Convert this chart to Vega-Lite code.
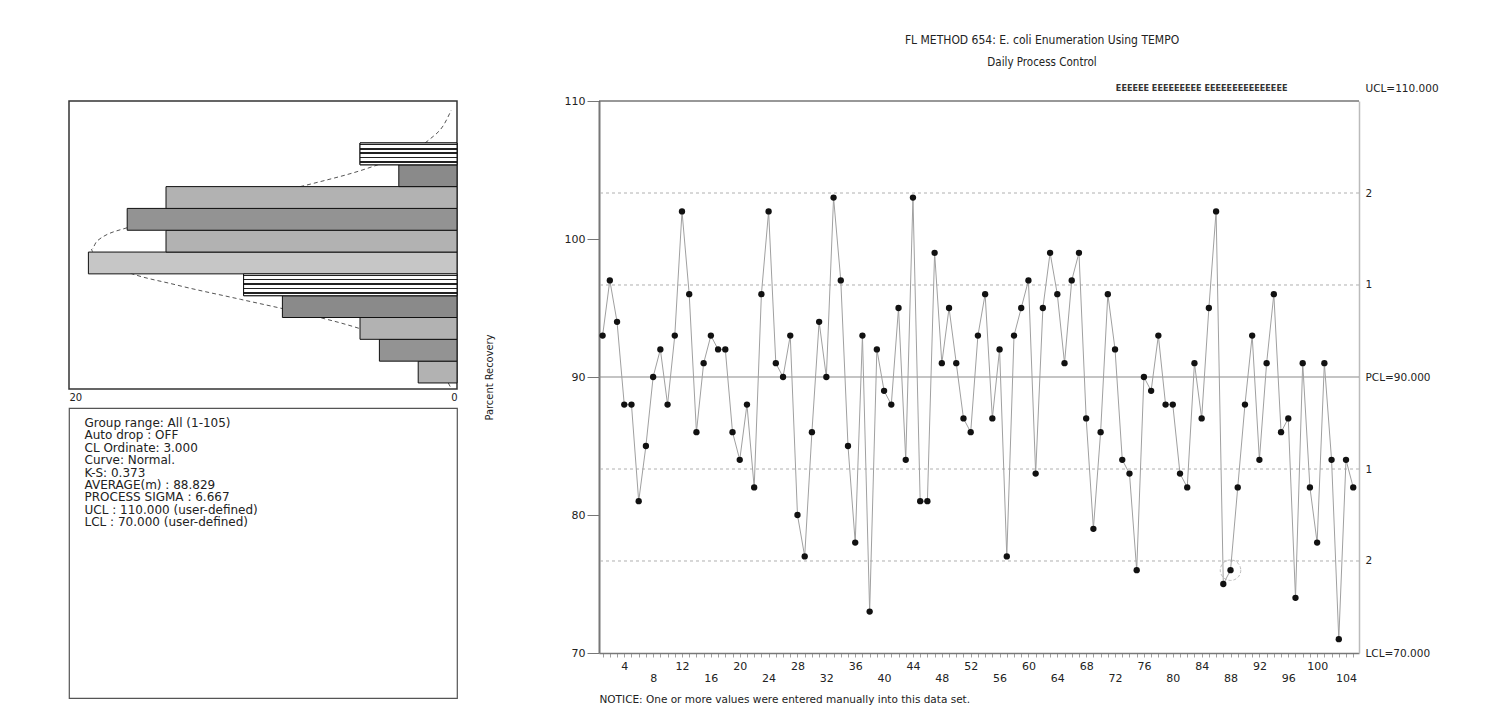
{
  "$schema": "https://vega.github.io/schema/vega-lite/v6.json",
  "background": "white",
  "padding": {"left": 67, "top": 33, "right": 40, "bottom": 5},
  "config": {"font": "DejaVu Sans"},
  "datasets": {
    "points": [
      {"sample": 1, "value": 93}, {"sample": 2, "value": 97}, {"sample": 3, "value": 94}, {"sample": 4, "value": 88}, {"sample": 5, "value": 88},
      {"sample": 6, "value": 81}, {"sample": 7, "value": 85}, {"sample": 8, "value": 90}, {"sample": 9, "value": 92}, {"sample": 10, "value": 88},
      {"sample": 11, "value": 93}, {"sample": 12, "value": 102}, {"sample": 13, "value": 96}, {"sample": 14, "value": 86}, {"sample": 15, "value": 91},
      {"sample": 16, "value": 93}, {"sample": 17, "value": 92}, {"sample": 18, "value": 92}, {"sample": 19, "value": 86}, {"sample": 20, "value": 84},
      {"sample": 21, "value": 88}, {"sample": 22, "value": 82}, {"sample": 23, "value": 96}, {"sample": 24, "value": 102}, {"sample": 25, "value": 91},
      {"sample": 26, "value": 90}, {"sample": 27, "value": 93}, {"sample": 28, "value": 80}, {"sample": 29, "value": 77}, {"sample": 30, "value": 86},
      {"sample": 31, "value": 94}, {"sample": 32, "value": 90}, {"sample": 33, "value": 103}, {"sample": 34, "value": 97}, {"sample": 35, "value": 85},
      {"sample": 36, "value": 78}, {"sample": 37, "value": 93}, {"sample": 38, "value": 73}, {"sample": 39, "value": 92}, {"sample": 40, "value": 89},
      {"sample": 41, "value": 88}, {"sample": 42, "value": 95}, {"sample": 43, "value": 84}, {"sample": 44, "value": 103}, {"sample": 45, "value": 81},
      {"sample": 46, "value": 81}, {"sample": 47, "value": 99}, {"sample": 48, "value": 91}, {"sample": 49, "value": 95}, {"sample": 50, "value": 91},
      {"sample": 51, "value": 87}, {"sample": 52, "value": 86}, {"sample": 53, "value": 93}, {"sample": 54, "value": 96}, {"sample": 55, "value": 87},
      {"sample": 56, "value": 92}, {"sample": 57, "value": 77}, {"sample": 58, "value": 93}, {"sample": 59, "value": 95}, {"sample": 60, "value": 97},
      {"sample": 61, "value": 83}, {"sample": 62, "value": 95}, {"sample": 63, "value": 99}, {"sample": 64, "value": 96}, {"sample": 65, "value": 91},
      {"sample": 66, "value": 97}, {"sample": 67, "value": 99}, {"sample": 68, "value": 87}, {"sample": 69, "value": 79}, {"sample": 70, "value": 86},
      {"sample": 71, "value": 96}, {"sample": 72, "value": 92}, {"sample": 73, "value": 84}, {"sample": 74, "value": 83}, {"sample": 75, "value": 76},
      {"sample": 76, "value": 90}, {"sample": 77, "value": 89}, {"sample": 78, "value": 93}, {"sample": 79, "value": 88}, {"sample": 80, "value": 88},
      {"sample": 81, "value": 83}, {"sample": 82, "value": 82}, {"sample": 83, "value": 91}, {"sample": 84, "value": 87}, {"sample": 85, "value": 95},
      {"sample": 86, "value": 102}, {"sample": 87, "value": 75}, {"sample": 88, "value": 76}, {"sample": 89, "value": 82}, {"sample": 90, "value": 88},
      {"sample": 91, "value": 93}, {"sample": 92, "value": 84}, {"sample": 93, "value": 91}, {"sample": 94, "value": 96}, {"sample": 95, "value": 86},
      {"sample": 96, "value": 87}, {"sample": 97, "value": 74}, {"sample": 98, "value": 91}, {"sample": 99, "value": 82}, {"sample": 100, "value": 78},
      {"sample": 101, "value": 91}, {"sample": 102, "value": 84}, {"sample": 103, "value": 71}, {"sample": 104, "value": 84}, {"sample": 105, "value": 82}
    ],
    "hist": [
      {"lo": 70.5, "hi": 73.5, "count": 2, "pattern": "fwddiag"},
      {"lo": 73.5, "hi": 76.5, "count": 4, "pattern": "grid"},
      {"lo": 76.5, "hi": 79.5, "count": 5, "pattern": "backdiag"},
      {"lo": 79.5, "hi": 82.5, "count": 9, "pattern": "crosshatch"},
      {"lo": 82.5, "hi": 85.5, "count": 11, "pattern": "horizontal"},
      {"lo": 85.5, "hi": 88.5, "count": 19, "pattern": "vertical"},
      {"lo": 88.5, "hi": 91.5, "count": 15, "pattern": "fwddiag"},
      {"lo": 91.5, "hi": 94.5, "count": 17, "pattern": "grid"},
      {"lo": 94.5, "hi": 97.5, "count": 15, "pattern": "backdiag"},
      {"lo": 97.5, "hi": 100.5, "count": 3, "pattern": "crosshatch"},
      {"lo": 100.5, "hi": 103.5, "count": 5, "pattern": "horizontal"}
    ],
    "curve": [
      {"value": 70, "freq": 0.35}, {"value": 72, "freq": 0.78}, {"value": 74, "freq": 1.59}, {"value": 76, "freq": 2.96},
      {"value": 78, "freq": 5.04}, {"value": 80, "freq": 7.84}, {"value": 82, "freq": 11.16}, {"value": 84, "freq": 14.5},
      {"value": 86, "freq": 17.23}, {"value": 88, "freq": 18.7}, {"value": 88.83, "freq": 18.85}, {"value": 90, "freq": 18.56},
      {"value": 92, "freq": 16.83}, {"value": 94, "freq": 13.95}, {"value": 96, "freq": 10.57}, {"value": 98, "freq": 7.32},
      {"value": 100, "freq": 4.63}, {"value": 102, "freq": 2.68}, {"value": 104, "freq": 1.41}, {"value": 106, "freq": 0.68},
      {"value": 108, "freq": 0.3}
    ],
    "limits": [
      {"value": 76.667, "kind": "sigma"}, {"value": 83.333, "kind": "sigma"},
      {"value": 96.667, "kind": "sigma"}, {"value": 103.333, "kind": "sigma"},
      {"value": 90, "kind": "center"}, {"value": 110, "kind": "ucl"}
    ],
    "annotations": [
      {"sample": 88, "value": 76, "note": "circled"}
    ],
    "stats": [
      {"line": 1, "text": "Group range: All (1-105)"},
      {"line": 2, "text": "Auto drop  : OFF"},
      {"line": 3, "text": "CL Ordinate: 3.000"},
      {"line": 4, "text": "Curve: Normal."},
      {"line": 5, "text": "K-S: 0.373"},
      {"line": 6, "text": "AVERAGE(m) : 88.829"},
      {"line": 7, "text": "PROCESS SIGMA : 6.667"},
      {"line": 8, "text": "UCL : 110.000 (user-defined)"},
      {"line": 9, "text": "LCL : 70.000 (user-defined)"}
    ]
  },
  "bounds": "flush",
  "spacing": 530,
  "hconcat": [
    {
      "bounds": "flush",
      "spacing": 19,
      "vconcat": [
        {
          "width": 388,
          "height": 288,
          "view": {"stroke": "#333", "strokeWidth": 1.5},
          "layer": [
            {
              "data": {"name": "curve"},
              "mark": {"type": "line", "strokeDash": [4, 3], "color": "#555", "strokeWidth": 1, "interpolate": "monotone"},
              "encoding": {
                "x": {"field": "freq", "type": "quantitative", "scale": {"domain": [0, 20], "reverse": true},
                  "axis": {"values": [0, 20], "labelFlush": true, "tickSize": 0, "domain": false, "grid": false, "labelPadding": 3, "labelFontSize": 10, "labelColor": "#222", "title": null}},
                "y": {"field": "value", "type": "quantitative", "scale": {"domain": [69.67, 109.27], "nice": false, "zero": false}, "axis": null},
                "order": {"field": "value"}
              }
            },
            {
              "data": {"name": "hist"},
              "mark": {"type": "rect", "stroke": "#111", "strokeWidth": 1},
              "encoding": {
                "x": {"field": "count", "type": "quantitative"},
                "x2": {"datum": 0},
                "y": {"field": "lo", "type": "quantitative"},
                "y2": {"field": "hi"},
                "fill": {"field": "pattern", "type": "nominal", "legend": null,
                  "scale": {"domain": ["horizontal", "crosshatch", "backdiag", "grid", "fwddiag", "vertical"],
                            "range": ["#ffffff", "#8a8a8a", "#b2b2b2", "#939393", "#b2b2b2", "#c6c6c6"]}}
              }
            },
            {
              "data": {"name": "hist"},
              "transform": [{"filter": "datum.pattern == 'horizontal'"}],
              "mark": {"type": "rect", "stroke": "#111", "strokeWidth": 1,
                "fill": {"gradient": "linear", "x1": 0, "y1": 0, "x2": 0, "y2": 1, "stops": [
                  {"offset": 0, "color": "#ffffff"}, {"offset": 0.03, "color": "#ffffff"}, {"offset": 0.03, "color": "#222222"}, {"offset": 0.1, "color": "#222222"}, {"offset": 0.1, "color": "#ffffff"},
                  {"offset": 0.23, "color": "#ffffff"}, {"offset": 0.23, "color": "#222222"}, {"offset": 0.3, "color": "#222222"}, {"offset": 0.3, "color": "#ffffff"},
                  {"offset": 0.43, "color": "#ffffff"}, {"offset": 0.43, "color": "#222222"}, {"offset": 0.5, "color": "#222222"}, {"offset": 0.5, "color": "#ffffff"},
                  {"offset": 0.63, "color": "#ffffff"}, {"offset": 0.63, "color": "#222222"}, {"offset": 0.7, "color": "#222222"}, {"offset": 0.7, "color": "#ffffff"},
                  {"offset": 0.83, "color": "#ffffff"}, {"offset": 0.83, "color": "#222222"}, {"offset": 0.9, "color": "#222222"}, {"offset": 0.9, "color": "#ffffff"},
                  {"offset": 1, "color": "#ffffff"}]}},
              "encoding": {
                "x": {"field": "count", "type": "quantitative"},
                "x2": {"datum": 0},
                "y": {"field": "lo", "type": "quantitative"},
                "y2": {"field": "hi"}
              }
            }
          ]
        },
        {
          "width": 388,
          "height": 290,
          "view": {"stroke": "#555", "strokeWidth": 1.2},
          "data": {"name": "stats"},
          "mark": {"type": "text", "align": "left", "baseline": "middle", "fontSize": 12, "color": "#222"},
          "encoding": {
            "x": {"datum": 0, "type": "quantitative", "scale": {"domain": [-0.04, 0.96]}, "axis": null},
            "y": {"field": "line", "type": "quantitative", "scale": {"domain": [-0.21, 23.2], "reverse": true, "nice": false, "zero": false}, "axis": null},
            "text": {"field": "text"}
          }
        }
      ]
    },
    {
      "width": 760,
      "height": 552,
      "view": {"stroke": null},
      "title": {
        "text": "FL METHOD 654: E. coli Enumeration Using TEMPO",
        "subtitle": "Daily Process Control",
        "anchor": "middle",
        "frame": "group",
        "dx": 63,
        "offset": 14,
        "font": "Liberation Sans Narrow, DejaVu Sans Condensed, sans-serif",
        "fontSize": 12,
        "fontWeight": "normal",
        "color": "#222",
        "subtitleFont": "Liberation Sans Narrow, DejaVu Sans Condensed, sans-serif",
        "subtitleFontSize": 11.5,
        "subtitleColor": "#222",
        "subtitlePadding": 10
      },
      "resolve": {"axis": {"y": "independent"}},
      "layer": [
        {
          "data": {"name": "limits"},
          "mark": {"type": "rule"},
          "encoding": {
            "y": {"field": "value", "type": "quantitative", "scale": {"domain": [70, 110], "nice": false, "zero": false}, "axis": null},
            "color": {"field": "kind", "type": "nominal", "legend": null, "scale": {"domain": ["sigma", "center", "ucl"], "range": ["#b0b0b0", "#8a8a8a", "#333333"]}},
            "strokeDash": {"field": "kind", "type": "nominal", "legend": null, "scale": {"domain": ["sigma", "center", "ucl"], "range": [[3, 3], [1, 0], [1, 0]]}},
            "strokeWidth": {"field": "kind", "type": "nominal", "legend": null, "scale": {"domain": ["sigma", "center", "ucl"], "range": [1, 1.2, 1.6]}}
          }
        },
        {
          "data": {"name": "points"},
          "mark": {"type": "line", "color": "#a0a0a0", "strokeWidth": 1},
          "encoding": {
            "x": {"field": "sample", "type": "quantitative", "scale": {"domain": [0.5, 105.8], "nice": false, "zero": false},
              "axis": {
                "values": [1,2,3,4,5,6,7,8,9,10,11,12,13,14,15,16,17,18,19,20,21,22,23,24,25,26,27,28,29,30,31,32,33,34,35,36,37,38,39,40,41,42,43,44,45,46,47,48,49,50,51,52,53,54,55,56,57,58,59,60,61,62,63,64,65,66,67,68,69,70,71,72,73,74,75,76,77,78,79,80,81,82,83,84,85,86,87,88,89,90,91,92,93,94,95,96,97,98,99,100,101,102,103,104,105],
                "tickCount": 300,
                "format": "d",
                "labelExpr": "datum.value % 4 == 0 ? datum.label : ''",
                "labelOverlap": false,
                "labelPadding": {"condition": {"test": "datum.value % 8 == 0", "value": 15}, "value": 3},
                "tickSize": 4, "tickColor": "#a0a0a0", "domainColor": "#777", "domainWidth": 1.5,
                "labelFontSize": 11, "labelColor": "#222", "grid": false,
                "title": "NOTICE: One or more values were entered manually into this data set.",
                "titleAnchor": "start", "titleAlign": "left", "titleFontSize": 10.5, "titleFontWeight": "normal", "titleColor": "#222", "titlePadding": 11
              }},
            "y": {"field": "value", "type": "quantitative", "scale": {"domain": [70, 110], "nice": false, "zero": false},
              "axis": {"orient": "left", "values": [70, 80, 90, 100, 110], "tickSize": 12, "tickColor": "#777", "domainColor": "#777", "domainWidth": 2,
                "labelFontSize": 11, "labelColor": "#222", "labelPadding": 2, "grid": false,
                "title": "Parcent Recovery", "titleFont": "Liberation Sans Narrow, DejaVu Sans Condensed, sans-serif", "titleFontSize": 11, "titleFontWeight": "normal", "titleColor": "#222", "titlePadding": 70}}
          }
        },
        {
          "data": {"name": "points"},
          "mark": {"type": "circle", "size": 40, "color": "#111", "opacity": 1},
          "encoding": {
            "x": {"field": "sample", "type": "quantitative"},
            "y": {"field": "value", "type": "quantitative",
              "axis": {"orient": "right", "values": [70, 76.667, 83.333, 90, 96.667, 103.333, 110],
                "labelExpr": "datum.value >= 109.9 ? 'UCL=110.000' : (datum.value == 90 ? 'PCL=90.000' : (datum.value <= 70.1 ? 'LCL=70.000' : (abs(datum.value - 90) < 10 ? '1' : '2')))",
                "labelOffset": {"condition": {"test": "datum.value >= 109.9", "value": -13}, "value": 0},
                "tickSize": 0, "domainColor": "#bbb", "domainWidth": 1.5, "labelPadding": 6, "labelFontSize": 10.5, "labelColor": "#222", "grid": false, "title": null}}
          }
        },
        {
          "data": {"name": "annotations"},
          "mark": {"type": "point", "filled": false, "size": 420, "color": "#a0a0a0", "strokeWidth": 1, "strokeDash": [3, 2]},
          "encoding": {
            "x": {"field": "sample", "type": "quantitative"},
            "y": {"field": "value", "type": "quantitative", "axis": null}
          }
        },
        {
          "data": {"values": [{"note": "EEEEEE EEEEEEEEE EEEEEEEEEEEEEEE"}]},
          "mark": {"type": "text", "align": "center", "baseline": "middle", "font": "Liberation Sans Narrow, DejaVu Sans Condensed, sans-serif", "fontSize": 9, "fontWeight": "bold", "color": "#333"},
          "encoding": {
            "x": {"datum": 84, "type": "quantitative"},
            "y": {"datum": 110.95, "type": "quantitative", "axis": null},
            "text": {"field": "note"}
          }
        }
      ]
    }
  ]
}
